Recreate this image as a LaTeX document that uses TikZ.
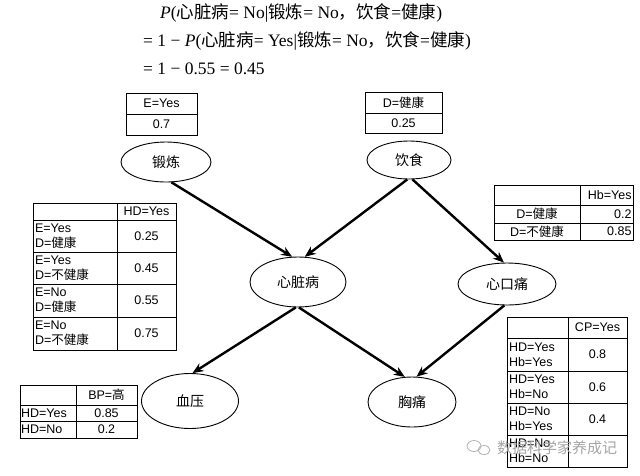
\documentclass[tikz,border=0pt]{standalone}
\usepackage{fontspec}
\setmainfont{Liberation Sans}
\newfontfamily\cjk{Noto Sans CJK SC}
\newfontfamily\serifrm{Liberation Serif}
\usetikzlibrary{shapes.geometric,arrows.meta}
\newcommand{\zh}[1]{{\cjk #1}}

\begin{document}
\begin{tikzpicture}[x=1pt,y=-1pt,
    var/.style={draw, ellipse, line width=0.9pt, inner sep=0pt, font=\cjk\fontsize{14}{16}\selectfont},
    cell/.style={draw, line width=0.9pt, inner sep=0pt, font=\fontsize{12.5}{15}\selectfont},
    link/.style={line width=2.4pt, -{Stealth[length=11pt,width=9pt]}},
    eqline/.style={anchor=base west, inner sep=0pt, font=\serifrm\fontsize{17.5}{20}\selectfont}]

    \useasboundingbox (0,0) rectangle (640,475);
    \fill[white] (0,0) rectangle (640,475);

    % formula
    \node[eqline] (eq1) at (160,18) {\textit{P}(\zh{心脏病}= No|\zh{锻炼}= No\zh{，}\zh{饮食}=\zh{健康})};
    \node[eqline] (eq2) at (143,46) {= 1 − \textit{P}(\zh{心脏病}= Yes|\zh{锻炼}= No\zh{，}\zh{饮食}=\zh{健康})};
    \node[eqline] (eq3) at (143,74) {= 1 − 0.55 = 0.45};

    % variables
    \node[var, minimum width=90, minimum height=40] (dl) at (166,162) {锻炼};
    \node[var, minimum width=84, minimum height=38] (ys) at (409,160) {饮食};
    \node[var, minimum width=96, minimum height=50] (xzb) at (298,282) {心脏病};
    \node[var, minimum width=98, minimum height=42] (xkt) at (507,284) {心口痛};
    \node[var, minimum width=97, minimum height=55] (xy) at (190,401) {血压};
    \node[var, minimum width=88, minimum height=50] (xt) at (412,402) {胸痛};

    % links
    \draw[link] (dl.-75) -- (xzb.103);
    \draw[link] (ys.-95) -- (xzb.75);
    \draw[link] (ys.-80) -- (xkt.98);
    \draw[link] (xzb.-95) -- (xy.85);
    \draw[link] (xzb.-88) -- (xt.106);
    \draw[link] (xkt.-97) -- (xt.80);

    % table E
    \node[cell, minimum width=71, minimum height=21] (e1) at (161.5,103.5) {E=Yes};
    \node[cell, minimum width=71, minimum height=21] (e2) at (161.5,124.5) {0.7};

    % table D
    \node[cell, minimum width=77, minimum height=21] (d1) at (403.5,102.5) {D=\zh{健康}};
    \node[cell, minimum width=77, minimum height=20] (d2) at (403.5,123) {0.25};

    % table HD
    \node[cell, minimum width=84, minimum height=17] (hd00) at (75,211.5) {};
    \node[cell, minimum width=59, minimum height=17] (hd01) at (146.5,211.5) {HD=Yes};
    \node[cell, minimum width=84, minimum height=32, text width=80, align=left] (hd10) at (75,236) {E=Yes\\D=\zh{健康}};
    \node[cell, minimum width=59, minimum height=32] (hd11) at (146.5,236) {0.25};
    \node[cell, minimum width=84, minimum height=32, text width=80, align=left] (hd20) at (75,268) {E=Yes\\D=\zh{不健康}};
    \node[cell, minimum width=59, minimum height=32] (hd21) at (146.5,268) {0.45};
    \node[cell, minimum width=84, minimum height=33, text width=80, align=left] (hd30) at (75,300.5) {E=No\\D=\zh{健康}};
    \node[cell, minimum width=59, minimum height=33] (hd31) at (146.5,300.5) {0.55};
    \node[cell, minimum width=84, minimum height=33, text width=80, align=left] (hd40) at (75,333.5) {E=No\\D=\zh{不健康}};
    \node[cell, minimum width=59, minimum height=33] (hd41) at (146.5,333.5) {0.75};

    % table Hb
    \node[cell, minimum width=86, minimum height=20] (hb00) at (537,195) {};
    \node[cell, minimum width=53, minimum height=20, text width=50, align=right] (hb01) at (606.5,195) {Hb=Yes};
    \node[cell, minimum width=86, minimum height=18] (hb10) at (537,214) {D=\zh{健康}};
    \node[cell, minimum width=53, minimum height=18, text width=50, align=right] (hb11) at (606.5,214) {0.2};
    \node[cell, minimum width=86, minimum height=17] (hb20) at (537,231.5) {D=\zh{不健康}};
    \node[cell, minimum width=53, minimum height=17, text width=50, align=right] (hb21) at (606.5,231.5) {0.85};

    % table CP
    \node[cell, minimum width=61, minimum height=21] (cp00) at (537.5,327.5) {};
    \node[cell, minimum width=59, minimum height=21] (cp01) at (597.5,327.5) {CP=Yes};
    \node[cell, minimum width=61, minimum height=33, text width=57, align=left] (cp10) at (537.5,354.5) {HD=Yes\\Hb=Yes};
    \node[cell, minimum width=59, minimum height=33] (cp11) at (597.5,354.5) {0.8};
    \node[cell, minimum width=61, minimum height=32, text width=57, align=left] (cp20) at (537.5,387) {HD=Yes\\Hb=No};
    \node[cell, minimum width=59, minimum height=32] (cp21) at (597.5,387) {0.6};
    \node[cell, minimum width=61, minimum height=32, text width=57, align=left] (cp30) at (537.5,419) {HD=No\\Hb=Yes};
    \node[cell, minimum width=59, minimum height=32] (cp31) at (597.5,419) {0.4};
    \node[cell, minimum width=61, minimum height=32, text width=57, align=left] (cp40) at (537.5,451) {HD=No\\Hb=No};
    \node[cell, minimum width=59, minimum height=32] (cp41) at (597.5,451) {};

    % table BP
    \node[cell, minimum width=56, minimum height=20] (bp00) at (48,395) {};
    \node[cell, minimum width=61, minimum height=20] (bp01) at (106.5,395) {BP=\zh{高}};
    \node[cell, minimum width=56, minimum height=16, text width=54, align=left] (bp10) at (48,413) {HD=Yes};
    \node[cell, minimum width=61, minimum height=16] (bp11) at (106.5,413) {0.85};
    \node[cell, minimum width=56, minimum height=17, text width=54, align=left] (bp20) at (48,429.5) {HD=No};
    \node[cell, minimum width=61, minimum height=17] (bp21) at (106.5,429.5) {0.2};

    % watermark
    \draw[gray!60, line width=0.8pt] (474,446) ellipse (7 and 5.5);
    \draw[gray!60, line width=0.8pt] (484,450) ellipse (6 and 4.5);
    \node[font=\cjk\fontsize{15}{17}\selectfont, text=gray!70, inner sep=0pt] (wm) at (557,448) {数据科学家养成记};
\end{tikzpicture}
\end{document}
